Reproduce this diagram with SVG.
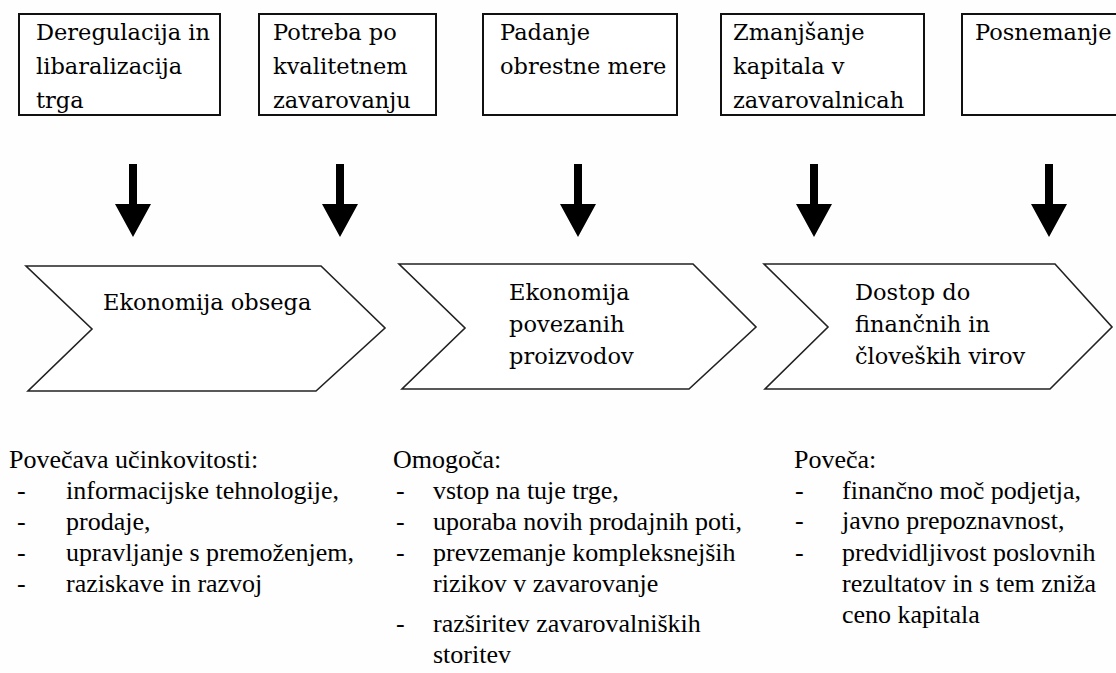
<svg xmlns="http://www.w3.org/2000/svg" width="1116" height="673" viewBox="0 0 1116 673">
<defs>
<style>
.box{fill:#ffffff;stroke:#111;stroke-width:2}
.chev{fill:#ffffff;stroke:#222;stroke-width:1.6}
.bt{font-family:"DejaVu Serif","Liberation Serif",serif;font-size:22.5px;fill:#000}
.lt{font-family:"Liberation Serif","Times New Roman",serif;font-size:26px;fill:#000}
.arr{fill:#000}
</style>
<path id="arrow" d="M-4,0 L4,0 L4,40 L18,40 L0,73 L-18,40 L-4,40 Z"/>
</defs>
<rect width="1116" height="673" fill="#fefefe"/>
<g id="box1"><rect class="box" x="19" y="14" width="201" height="101"/><text class="bt" x="36" y="40">Deregulacija in</text><text class="bt" x="36" y="74">libaralizacija</text><text class="bt" x="36" y="108">trga</text></g>
<g id="box2"><rect class="box" x="259" y="14" width="177" height="101"/><text class="bt" x="273" y="40">Potreba po</text><text class="bt" x="273" y="74">kvalitetnem</text><text class="bt" x="273" y="108">zavarovanju</text></g>
<g id="box3"><rect class="box" x="483" y="14" width="194" height="101"/><text class="bt" x="500" y="40">Padanje</text><text class="bt" x="500" y="74">obrestne mere</text></g>
<g id="box4"><rect class="box" x="721" y="14" width="203" height="101"/><text class="bt" x="733" y="40">Zmanjšanje</text><text class="bt" x="733" y="74">kapitala v</text><text class="bt" x="733" y="108">zavarovalnicah</text></g>
<g id="box5"><rect class="box" x="962" y="14" width="170" height="101"/><text class="bt" x="975" y="40">Posnemanje</text></g>
<g id="connectors" class="arr">
<use href="#arrow" x="133" y="164"/>
<use href="#arrow" x="340" y="164"/>
<use href="#arrow" x="578" y="164"/>
<use href="#arrow" x="814" y="164"/>
<use href="#arrow" x="1049" y="164"/>
</g>
<g id="chevron1"><path class="chev" d="M26,266 L321,266 L385,328 L316,391 L28,391 L92,329 Z"/><text class="bt" x="103" y="310">Ekonomija obsega</text></g>
<g id="chevron2"><path class="chev" d="M399,264 L693,264 L756,327 L689,389 L402,389 L465,328 Z"/><text class="bt" x="509" y="300">Ekonomija</text><text class="bt" x="509" y="332">povezanih</text><text class="bt" x="509" y="364">proizvodov</text></g>
<g id="chevron3"><path class="chev" d="M764,264 L1055,264 L1112,327 L1050,389 L765,389 L828,327 Z"/><text class="bt" x="855" y="300">Dostop do</text><text class="bt" x="855" y="332">finančnih in</text><text class="bt" x="855" y="364">človeških virov</text></g>
<g id="list1" class="lt">
<text x="9" y="468">Povečava učinkovitosti:</text>
<text x="17" y="499">-</text><text x="66" y="499">informacijske tehnologije,</text>
<text x="17" y="530">-</text><text x="66" y="530">prodaje,</text>
<text x="17" y="561">-</text><text x="66" y="561">upravljanje s premoženjem,</text>
<text x="17" y="592">-</text><text x="66" y="592">raziskave in razvoj</text>
</g>
<g id="list2" class="lt">
<text x="393" y="468">Omogoča:</text>
<text x="396" y="499">-</text><text x="433" y="499">vstop na tuje trge,</text>
<text x="396" y="530">-</text><text x="433" y="530">uporaba novih prodajnih poti,</text>
<text x="396" y="561">-</text><text x="433" y="561">prevzemanje kompleksnejših</text>
<text x="433" y="592">rizikov v zavarovanje</text>
<text x="396" y="632">-</text><text x="433" y="632">razširitev zavarovalniških</text>
<text x="433" y="663">storitev</text>
</g>
<g id="list3" class="lt">
<text x="794" y="468">Poveča:</text>
<text x="795" y="499">-</text><text x="842" y="499">finančno moč podjetja,</text>
<text x="795" y="529">-</text><text x="842" y="529">javno prepoznavnost,</text>
<text x="795" y="561">-</text><text x="842" y="561">predvidljivost poslovnih</text>
<text x="842" y="592">rezultatov in s tem zniža</text>
<text x="842" y="623">ceno kapitala</text>
</g>
</svg>
